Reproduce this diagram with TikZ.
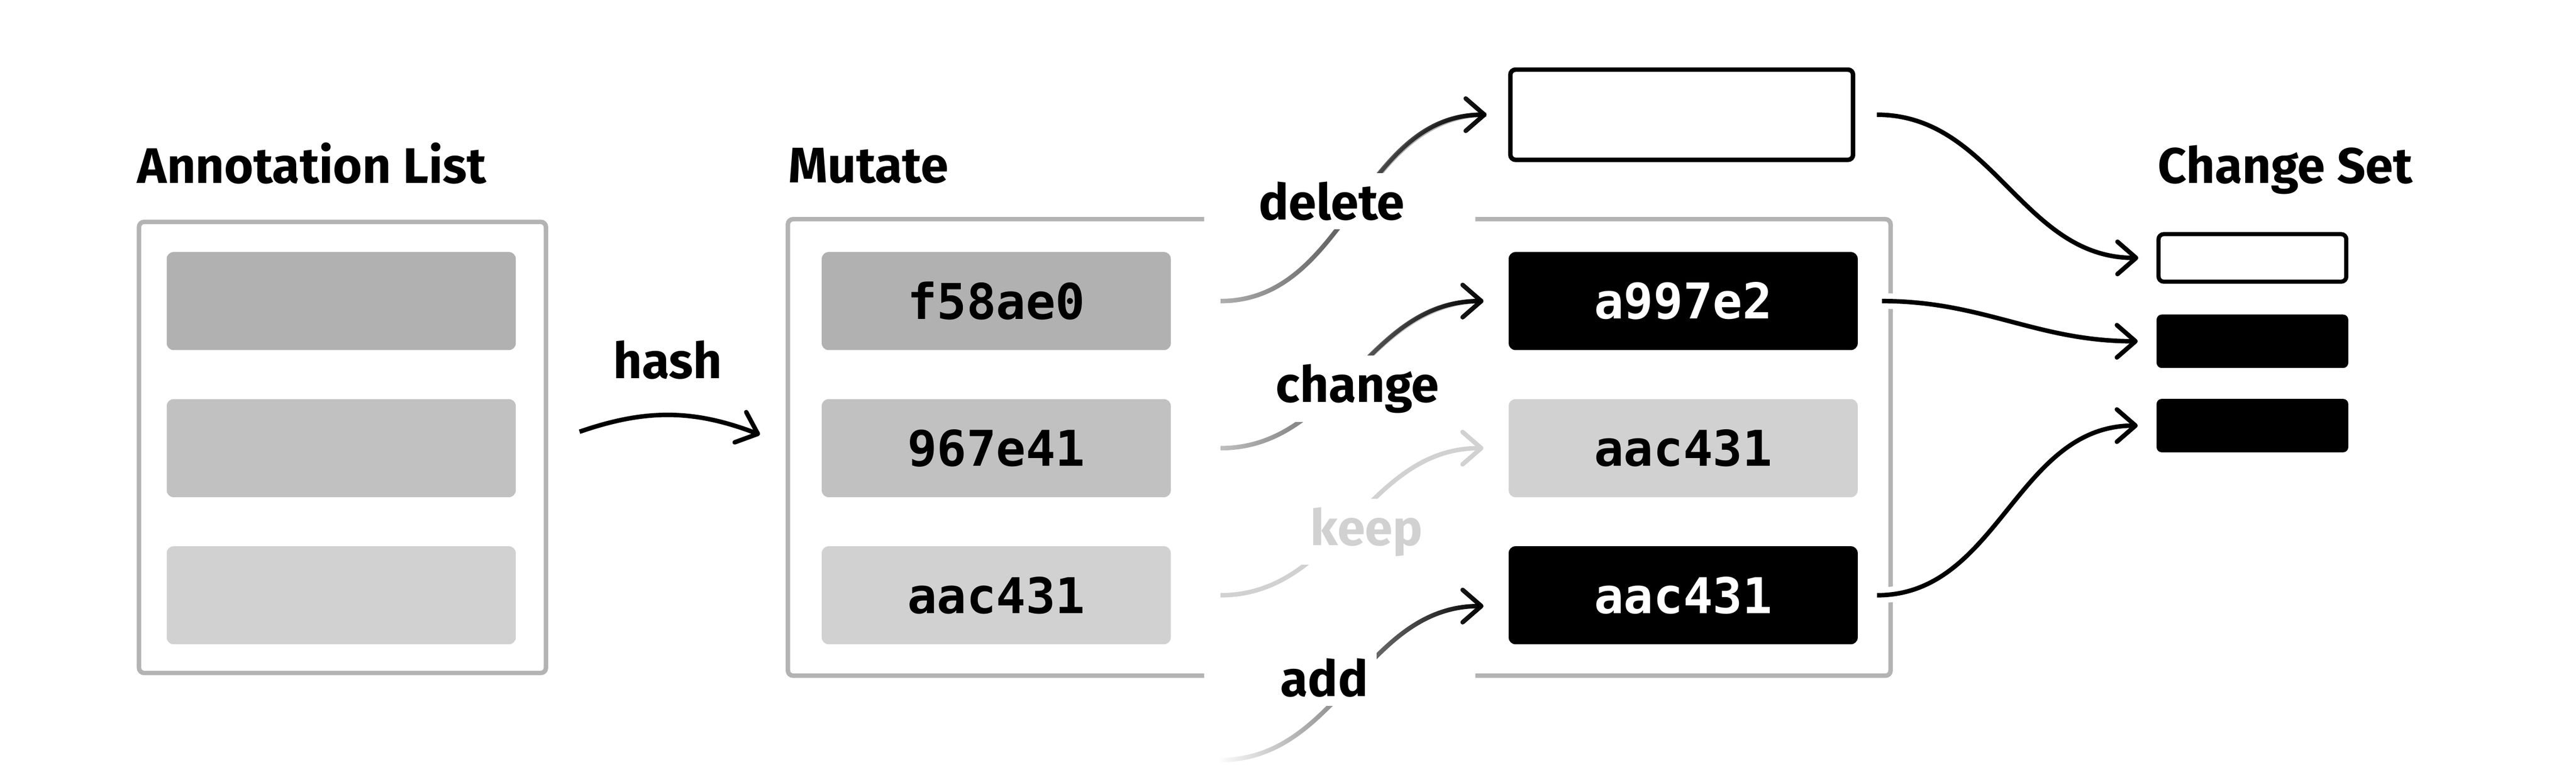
\documentclass[tikz,border=0pt]{standalone}
\usepackage{fontspec}
\setmainfont{Fira Sans}
\newfontfamily\hashfont{DejaVu Sans Mono}
\usetikzlibrary{arrows.meta,fadings}
\definecolor{hashA}{HTML}{B1B1B1}
\definecolor{hashB}{HTML}{C1C1C1}
\definecolor{hashC}{HTML}{D1D1D1}
\definecolor{frame}{HTML}{B3B3B3}
\tikzfading[name=fade in, left color=transparent!100, right color=transparent!0]
\tikzset{
  title/.style={anchor=base west, inner sep=0pt, font=\fontsize{14.5}{17}\selectfont\bfseries},
  verb/.style={anchor=base, fill=white, inner sep=2.5pt, font=\fontsize{14.5}{17}\selectfont\bfseries},
  frameline/.style={draw=frame, line width=1.3pt, rounded corners=1.5pt},
  entry/.style={rounded corners=2pt, minimum width=3.56cm, minimum height=1cm, inner sep=0pt,
    font=\hashfont\bfseries\fontsize{14.3}{16}\selectfont},
  setbox/.style={rounded corners=1.5pt, minimum width=1.955cm, minimum height=0.545cm, inner sep=0pt},
  flow/.style={line width=1.3pt, -{Straight Barb[length=1.9mm, width=3.3mm, round]}},
  halo/.style={preaction={draw=white, line width=4.5pt, arrows=-}}
}

\begin{document}
\begin{tikzpicture}
\useasboundingbox (0,0) rectangle (26.27,-7.92);
% Annotation List
\node[frameline, draw, minimum width=4.15cm, minimum height=4.6cm] (list) at (3.4925,-4.5625) {};
\node[title] (listtitle) at ([yshift=3.7mm]list.north west) {Annotation List};
\node[entry, fill=hashA] (l1) at (3.48,-3.07) {};
\node[entry, fill=hashB] (l2) at (3.48,-4.57) {};
\node[entry, fill=hashC] (l3) at (3.48,-6.07) {};
% Mutate
\node[minimum width=11.245cm, minimum height=4.655cm, inner sep=0pt, outer sep=0pt] (mutate) at (13.6575,-4.5625) {};
\draw[frameline] ([xshift=4.245cm]mutate.north west) -| (mutate.south west) -- ([xshift=4.245cm]mutate.south west);
\draw[frameline] ([xshift=-4.235cm]mutate.north east) -| (mutate.south east) -- ([xshift=-4.235cm]mutate.south east);
\node[title] (mutatetitle) at ([yshift=3.7mm]mutate.north west) {Mutate};
\node[entry, fill=hashA] (m1) at (10.16,-3.07) {f58ae0};
\node[entry, fill=hashB] (m2) at (10.16,-4.57) {967e41};
\node[entry, fill=hashC] (m3) at (10.16,-6.07) {aac431};
\node[draw, line width=1.3pt, rounded corners=1.5pt, fill=white, minimum width=3.495cm, minimum height=0.92cm] (gone) at (17.15,-1.17) {};
\node[entry, fill=black, text=white] (n1) at (17.165,-3.07) {a997e2};
\node[entry, fill=hashC] (n2) at (17.165,-4.57) {aac431};
\node[entry, fill=black, text=white] (n3) at (17.165,-6.07) {aac431};
\coordinate (fresh) at (12.44,-7.75);
% Change Set
\node[setbox, draw, line width=1.2pt, minimum width=1.915cm, minimum height=0.485cm] (c1) at (22.97,-2.63) {};
\node[setbox, fill=black] (c2) at (22.97,-3.48) {};
\node[setbox, fill=black] (c3) at (22.97,-4.34) {};
\node[title] (settitle) at (22.0,-1.87) {Change Set};
% hash
\draw[flow] ([xshift=3.2mm,yshift=1.6mm]list.east) to[bend left=20] ([xshift=-2.85mm,yshift=1.3mm]mutate.west);
% delete, change, keep, add
\draw[line width=1.3pt, draw=hashA] ([xshift=5mm]m1.east) to[out=0,in=180] ([xshift=-2.2mm]gone.west);
\draw[flow, path fading=fade in] ([xshift=5mm]m1.east) to[out=0,in=180] ([xshift=-2.2mm]gone.west);
\draw[line width=1.3pt, draw=hashB] ([xshift=5mm]m2.east) to[out=0,in=180] ([xshift=-2.5mm]n1.west);
\draw[flow, path fading=fade in] ([xshift=5mm]m2.east) to[out=0,in=180] ([xshift=-2.5mm]n1.west);
\draw[flow, draw=hashC] ([xshift=5mm]m3.east) to[out=0,in=180] ([xshift=-2.5mm]n2.west);
\draw[flow, path fading=fade in] (fresh) to[out=0,in=180] ([xshift=-2.5mm,yshift=-1.1mm]n3.west);
% into the change set
\draw[flow, halo] ([xshift=2.2mm]gone.east) to[out=0,in=180] ([xshift=-1.85mm]c1.west);
\draw[flow, halo] ([xshift=2.4mm]n1.east) to[out=0,in=180] ([xshift=-1.85mm]c2.west);
\draw[flow, halo] ([xshift=1.9mm]n3.east) to[out=0,in=180] ([xshift=-1.85mm]c3.west);
% labels
\node[verb] (hash) at (6.81,-3.86) {hash};
\node[verb] (delete) at (13.58,-2.24) {delete};
\node[verb] (change) at (13.845,-4.10) {change};
\node[verb, text=hashC] (keep) at (13.935,-5.56) {keep};
\node[verb] (add) at (13.505,-7.10) {add};
\end{tikzpicture}
\end{document}
